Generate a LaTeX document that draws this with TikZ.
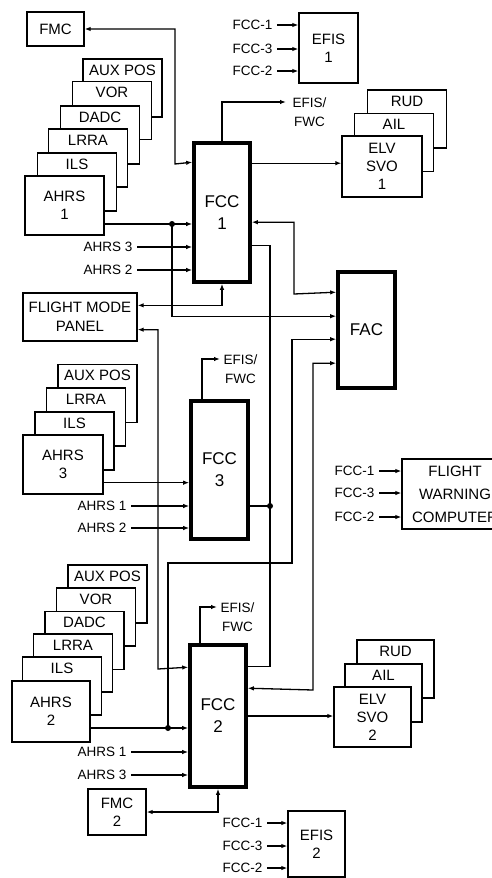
\documentclass[tikz,border=0pt]{standalone}
\usepackage{fontspec}
\setmainfont{Liberation Sans}
\usetikzlibrary{arrows.meta}
\begin{document}
\begin{tikzpicture}[x=1pt, y=-1pt, line width=1.3pt,
  unitbox/.style={draw, fill=white, inner sep=0pt, align=center, font=\fontsize{15}{18}\selectfont},
  fccbox/.style={unitbox, line width=3.6pt, font=\fontsize{17}{22}\selectfont},
  backbox/.style={unitbox, minimum width=79pt, minimum height=58pt,
    label={[anchor=north, inner sep=0pt, yshift=-6pt, font=\fontsize{15}{18}\selectfont]north:#1}},
  lbl/.style={inner sep=0pt, align=center, font=\fontsize{13.5}{19}\selectfont},
  arr/.style={-{Latex[length=6pt,width=4.5pt]}},
  dbl/.style={{Latex[length=6pt,width=4.5pt]}-{Latex[length=6pt,width=4.5pt]}},
  jdot/.style={circle, fill, inner sep=0pt, minimum size=6pt}]
  \path[use as bounding box, clip] (0,0) rectangle (492,878);

  % channel 1
  \node[unitbox, minimum width=57pt, minimum height=34pt] (fmc1) at (55.5,29) {FMC};
  \node[backbox=AUX POS] (aux1) at (122.5,88) {};
  \node[backbox=VOR] (vor1) at (112,110.5) {};
  \node[backbox=DADC] (dadc1) at (100,135) {};
  \node[backbox=LRRA] (lrra1) at (88,158) {};
  \node[backbox=ILS] (ils1) at (77,182) {};
  \node[unitbox, minimum width=79pt, minimum height=59pt] (ahrs1) at (64.5,205.5) {AHRS\\1};
  \node[fccbox, minimum width=56pt, minimum height=139pt] (fcc1) at (222,212.5) {FCC\\1};
  \node[unitbox, minimum width=59pt, minimum height=70pt] (efis1) at (328.5,48) {EFIS\\1};
  \node[lbl, anchor=east] (e1a) at (273,25) {FCC-1};
  \node[lbl, anchor=east] (e1b) at (273,49) {FCC-3};
  \node[lbl, anchor=east] (e1c) at (273,71) {FCC-2};
  \node[lbl, anchor=north west] (efwc1) at (292,97) {EFIS/\\FWC};
  \node[backbox=RUD] (rud1) at (407,119) {};
  \node[backbox=AIL] (ail1) at (394,142.5) {};
  \node[unitbox, minimum width=80pt, minimum height=61pt] (elv1) at (382,166.5) {ELV\\SVO\\1};
  \node[lbl, anchor=east] (l1a) at (133,247) {AHRS 3};
  \node[lbl, anchor=east] (l1b) at (133,270) {AHRS 2};

  % FAC and flight mode panel
  \node[fccbox, minimum width=57pt, minimum height=116pt] (fac) at (366.5,330) {FAC};
  \node[unitbox, minimum width=114pt, minimum height=48pt, font=\fontsize{15}{19}\selectfont] (fmp) at (80,317) {FLIGHT MODE\\PANEL};

  % channel 3
  \node[backbox=AUX POS] (aux3) at (97.5,393.5) {};
  \node[backbox=LRRA] (lrra3) at (86,417) {};
  \node[backbox=ILS] (ils3) at (74.5,441) {};
  \node[unitbox, minimum width=80pt, minimum height=59pt] (ahrs3) at (63,464.5) {AHRS\\3};
  \node[fccbox, minimum width=57pt, minimum height=138pt] (fcc3) at (219.5,470) {FCC\\3};
  \node[lbl, anchor=north west] (efwc3) at (223,354) {EFIS/\\FWC};
  \node[lbl, anchor=east] (l3a) at (127,506) {AHRS 1};
  \node[lbl, anchor=east] (l3b) at (127,528) {AHRS 2};

  % flight warning computer
  \node[unitbox, minimum width=106pt, minimum height=70pt, font=\fontsize{15}{23}\selectfont] (fwc) at (455,494) {FLIGHT\\WARNING\\COMPUTER};
  \node[lbl, anchor=east] (w1) at (375,471) {FCC-1};
  \node[lbl, anchor=east] (w3) at (375,493) {FCC-3};
  \node[lbl, anchor=east] (w2) at (375,517) {FCC-2};

  % channel 2
  \node[backbox=AUX POS] (aux2) at (107.5,594) {};
  \node[backbox=VOR] (vor2) at (96,617) {};
  \node[backbox=DADC] (dadc2) at (84.5,640.5) {};
  \node[backbox=LRRA] (lrra2) at (73,663) {};
  \node[backbox=ILS] (ils2) at (62,686) {};
  \node[unitbox, minimum width=78pt, minimum height=61pt] (ahrs2) at (51,711.5) {AHRS\\2};
  \node[fccbox, minimum width=56pt, minimum height=142pt] (fcc2) at (218,716) {FCC\\2};
  \node[lbl, anchor=north west] (efwc2) at (220,602) {EFIS/\\FWC};
  \node[lbl, anchor=east] (l2a) at (127,752) {AHRS 1};
  \node[lbl, anchor=east] (l2b) at (127,775) {AHRS 3};
  \node[unitbox, minimum width=58pt, minimum height=46pt] (fmc2) at (117,812) {FMC\\2};
  \node[backbox=RUD, minimum width=77pt] (rud2) at (395.5,669) {};
  \node[backbox=AIL, minimum width=77pt] (ail2) at (383.5,693) {};
  \node[unitbox, minimum width=77pt, minimum height=60pt] (elv2) at (372.5,717) {ELV\\SVO\\2};
  \node[unitbox, minimum width=57pt, minimum height=66pt] (efis2) at (316.5,844) {EFIS\\2};
  \node[lbl, anchor=east] (e2a) at (263,823) {FCC-1};
  \node[lbl, anchor=east] (e2b) at (263,846) {FCC-3};
  \node[lbl, anchor=east] (e2c) at (263,868) {FCC-2};

  % junctions
  \coordinate (j1) at (172,224);
  \coordinate (j2) at (168,728);
  \coordinate (j3) at (270,506);

  % channel 1 links
  \draw[dbl] (fmc1.east) -| (175,164) -- ([yshift=-21pt]fcc1.north west);
  \draw[arr] (ahrs1.east |- j1) -- (j1 -| fcc1.west);
  \draw[arr] ([xshift=4pt]l1a.east) -- (l1a.east -| fcc1.west);
  \draw[arr] ([xshift=4pt]l1b.east) -- (l1b.east -| fcc1.west);
  \draw[arr] (fcc1.north) |- ([xshift=-6pt,yshift=-5pt]efwc1.north west);
  \draw[arr] ([yshift=-22pt]fcc1.north east) coordinate (o1) -- (o1 -| elv1.west);
  \draw[arr] ([xshift=4pt]e1a.east) -- (e1a.east -| efis1.west);
  \draw[arr] ([xshift=4pt]e1b.east) -- (e1b.east -| efis1.west);
  \draw[arr] ([xshift=4pt]e1c.east) -- (e1c.east -| efis1.west);
  \draw[dbl] ([yshift=-81pt]fcc1.north east) -| (294,294) -- ([yshift=-22pt]fac.north west);
  \draw[arr] (j1) |- ([yshift=-46pt]fac.north west);
  \draw[dbl] ([yshift=-13pt]fmp.north east) -| (fcc1.south);

  % cross-channel bus
  \draw ([yshift=-104pt]fcc1.north east) -| (j3) |- ([yshift=-23pt]fcc2.north east);
  \draw (fcc3.east |- j3) -- (j3);

  % channel 3 links
  \draw[arr] ([yshift=12pt]ahrs3.south east) coordinate (o3) -- (o3 -| fcc3.west);
  \draw[arr] ([xshift=4pt]l3a.east) -- (l3a.east -| fcc3.west);
  \draw[arr] ([xshift=4pt]l3b.east) -- (l3b.east -| fcc3.west);
  \draw[arr] ([xshift=-17.5pt]fcc3.north) |- ([xshift=-3pt,yshift=-5pt]efwc3.north west);
  \draw[arr] ([xshift=4pt]w1.east) -- (w1.east -| fwc.west);
  \draw[arr] ([xshift=4pt]w3.east) -- (w3.east -| fwc.west);
  \draw[arr] ([xshift=4pt]w2.east) -- (w2.east -| fwc.west);

  % channel 2 links
  \draw[dbl] ([yshift=12pt]fmp.south east) -| (158,669) -- ([yshift=-24pt]fcc2.north west);
  \draw[arr] (ahrs2.east |- j2) -- (j2 -| fcc2.west);
  \draw[arr] (j2) |- (292,563) |- ([yshift=-69pt]fac.north west);
  \draw[dbl] ([yshift=-93pt]fac.north west) -| (313,690) -- ([yshift=-45pt]fcc2.north east);
  \draw[arr] ([xshift=4pt]l2a.east) -- (l2a.east -| fcc2.west);
  \draw[arr] ([xshift=4pt]l2b.east) -- (l2b.east -| fcc2.west);
  \draw[arr] ([xshift=-18pt]fcc2.north) |- ([xshift=-3pt,yshift=-5pt]efwc2.north west);
  \draw[arr] (fcc2.east) -- (fcc2.east -| elv2.west);
  \draw[dbl] (fmc2.east) -| (fcc2.south);
  \draw[arr] ([xshift=4pt]e2a.east) -- (e2a.east -| efis2.west);
  \draw[arr] ([xshift=4pt]e2b.east) -- (e2b.east -| efis2.west);
  \draw[arr] ([xshift=4pt]e2c.east) -- (e2c.east -| efis2.west);

  \node[jdot] (d1) at (j1) {};
  \node[jdot] (d2) at (j2) {};
  \node[jdot] (d3) at (j3) {};
\end{tikzpicture}
\end{document}
